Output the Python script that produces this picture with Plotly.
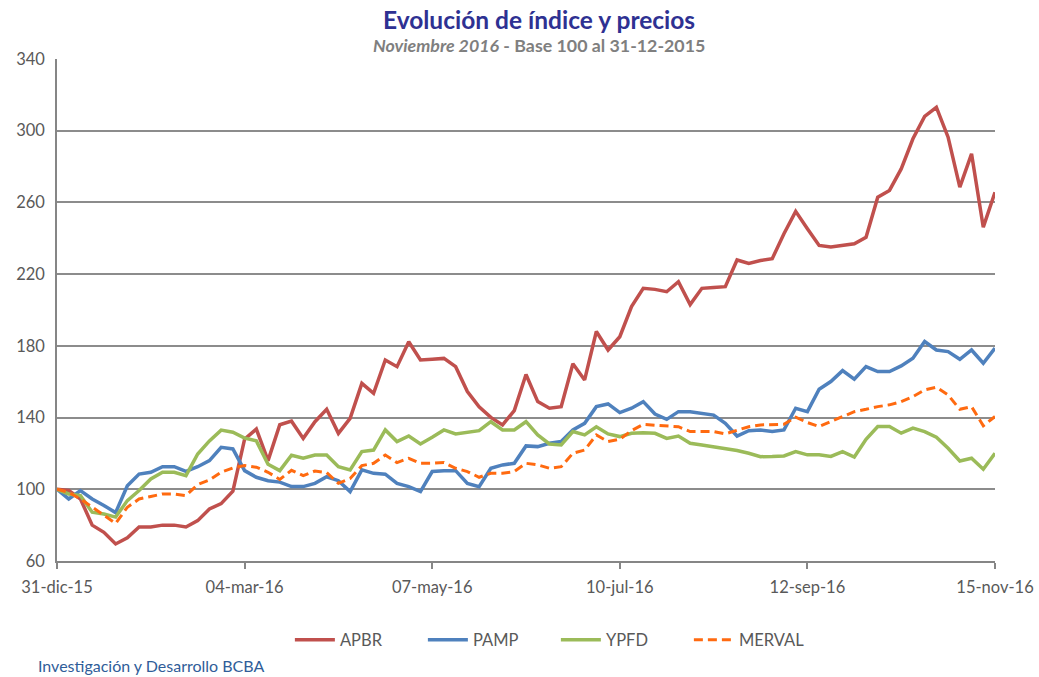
import plotly.graph_objects as go

dates = ["2015-12-31","2016-01-04","2016-01-08","2016-01-12","2016-01-16","2016-01-20","2016-01-24","2016-01-28",
         "2016-02-01","2016-02-05","2016-02-09","2016-02-13","2016-02-17","2016-02-21","2016-02-25","2016-02-29",
         "2016-03-04","2016-03-08","2016-03-12","2016-03-16","2016-03-20","2016-03-24","2016-03-28","2016-04-01",
         "2016-04-05","2016-04-09","2016-04-13","2016-04-17","2016-04-21","2016-04-25","2016-04-29","2016-05-03",
         "2016-05-07","2016-05-11","2016-05-15","2016-05-19","2016-05-23","2016-05-27","2016-05-31","2016-06-04",
         "2016-06-08","2016-06-12","2016-06-16","2016-06-20","2016-06-24","2016-06-28","2016-07-02","2016-07-06",
         "2016-07-10","2016-07-14","2016-07-18","2016-07-22","2016-07-26","2016-07-30","2016-08-03","2016-08-07",
         "2016-08-11","2016-08-15","2016-08-19","2016-08-23","2016-08-27","2016-08-31","2016-09-04","2016-09-08",
         "2016-09-12","2016-09-16","2016-09-20","2016-09-24","2016-09-28","2016-10-02","2016-10-06","2016-10-10",
         "2016-10-14","2016-10-18","2016-10-22","2016-10-26","2016-10-30","2016-11-03","2016-11-07","2016-11-11",
         "2016-11-15"]

apbr = [100, 99.3, 94.6, 80, 76, 69.5, 73, 79, 79, 80, 80, 79, 82.5, 89, 92, 99,
        128, 133.6, 116, 136, 138, 128.4, 137.7, 144.6, 131.2, 139.6, 159.1, 153.5, 172.1, 168.4, 182.3, 172.1,
        172.5, 173, 168.4, 154.5, 146, 140.1, 135.9, 143.9, 164, 148.9, 145.2, 146.1, 170, 161, 188, 177.7,
        185.1, 201.9, 212.1, 211.5, 210.2, 215.8, 203, 212.1, 212.6, 213, 227.9, 226, 227.6, 228.6, 242.5, 255,
        245.3, 236, 235.1, 236, 236.9, 240.6, 262.9, 266.7, 278.7, 295.5, 308, 313, 296.4, 268.5, 287.1, 246.2,
        265.7]

pamp = [100, 94.6, 99.3, 94.6, 91, 87, 102, 108.5, 109.5, 112.6, 112.6, 110, 112.6, 116, 123.4, 122.5,
        110.4, 106.7, 104.8, 104, 101.5, 101.5, 103.3, 107, 104.8, 98.7, 110.8, 108.9, 108.4, 103.3, 101.5, 98.7,
        109.9, 110.4, 110.4, 103.3, 101.5, 111.7, 113.6, 114.5, 124.2, 123.8, 125.7, 126.6, 133.1, 136.8, 146.1, 147.6,
        142.8, 145.2, 148.9, 142, 139, 143.3, 143.3, 142.4, 141.4, 136.8, 129.7, 132.7, 133.1, 132.2, 133.1, 145.2,
        143.3, 155.8, 160.1, 166.2, 161.4, 168.4, 165.7, 165.7, 168.8, 173.1, 182.4, 177.7, 176.8, 172.5, 177.7, 170.3,
        178.7]

ypfd = [100, 97.4, 96.5, 87.2, 86.2, 84.5, 93.7, 99.3, 105.8, 109.5, 109.5, 107.6, 119.7, 127, 133, 131.8,
        128.6, 127, 114, 110.4, 119, 117.3, 119.1, 119.1, 112.6, 110.8, 121, 121.9, 133.1, 126.6, 129.7, 125.3,
        129, 133.1, 130.9, 131.6, 132.7, 137.7, 133.1, 133.1, 137.7, 130.3, 125.3, 124.7, 132.2, 130.3, 134.9, 130.9,
        129.4, 131.2, 131.6, 131.2, 128.4, 129.7, 125.7, 124.7, 123.8, 122.9, 121.6, 120.1, 118.2, 118.3, 118.6, 121,
        119.2, 119.2, 118.3, 121, 118, 127.9, 135, 135, 131.3, 134.1, 132.2, 129, 122.9, 115.8, 117.3, 111.2,
        120.1]

merval = [100, 98.3, 94.6, 90, 85.9, 81, 90, 94.6, 96, 97.4, 97.4, 96.5, 102.6, 105.2, 109.5, 111.9,
          113.2, 112.3, 109.5, 105.5, 110.6, 107.6, 110.2, 109.3, 103.3, 106, 113.2, 114.5, 119.1, 114.9, 117.3, 114.5,
          114.5, 114.9, 111.7, 109.9, 106.7, 108.9, 108.9, 109.9, 114.5, 113.6, 111.7, 112.6, 120.1, 121.9, 130.3, 126.6,
          127.9, 132.7, 136.2, 135.9, 135.3, 134.9, 132.2, 132.2, 132.2, 130.9, 132.7, 134.9, 135.9, 135.9, 136.3, 140.2,
          137.2, 135, 137.8, 140.9, 143.3, 144.6, 146.1, 147.1, 148.9, 151.7, 155.4, 156.9, 152.6, 144.6, 146.1, 135.4,
          140.6]

tick_dates = ["2015-12-31", "2016-03-04", "2016-05-07", "2016-07-10", "2016-09-12", "2016-11-15"]
tick_labels = ["31-dic-15", "04-mar-16", "07-may-16", "10-jul-16", "12-sep-16", "15-nov-16"]
y_ticks = [60, 100, 140, 180, 220, 260, 300, 340]

FONT = "Lato, 'Open Sans', sans-serif"

fig = go.Figure()
fig.add_trace(go.Scatter(x=dates, y=apbr, name="APBR", mode="lines",
                         line=dict(color="#c0504d", width=3.5)))
fig.add_trace(go.Scatter(x=dates, y=pamp, name="PAMP", mode="lines",
                         line=dict(color="#4f81bd", width=3.5)))
fig.add_trace(go.Scatter(x=dates, y=ypfd, name="YPFD", mode="lines",
                         line=dict(color="#9bbb59", width=3.5)))
fig.add_trace(go.Scatter(x=dates, y=merval, name="MERVAL", mode="lines",
                         line=dict(color="#ff6a10", width=3, dash="9px,5px")))

fig.update_layout(
    width=1039, height=677,
    margin=dict(l=57, r=44, t=59, b=116),
    paper_bgcolor="white", plot_bgcolor="white",
    font=dict(family=FONT, color="#595959", size=16),
    showlegend=True,
    legend=dict(orientation="h", xref="container", yref="container",
                x=0.279, y=0.0547, xanchor="left", yanchor="middle",
                font=dict(size=16.5, color="#595959"),
                entrywidth=78, itemwidth=40, traceorder="normal"),
    annotations=[
        dict(text="<b>Evolución de índice y precios</b>", xref="paper", yref="paper",
             x=0.5139, y=1.0777, xanchor="center", yanchor="middle", showarrow=False,
             font=dict(size=24.5, color="#2e3192", family=FONT)),
        dict(text="<b><i>Noviembre 2016</i> - Base 100 al 31-12-2015</b>", xref="paper", yref="paper",
             x=0.5139, y=1.0279, xanchor="center", yanchor="middle", showarrow=False,
             font=dict(size=17.8, color="#7f7f7f", family=FONT)),
        dict(text="Investigación y Desarrollo BCBA", xref="paper", yref="paper",
             x=-0.0224, y=-0.2072, xanchor="left", yanchor="middle", showarrow=False,
             font=dict(size=16, color="#2f5d99", family=FONT)),
    ],
)

fig.update_xaxes(
    type="date", range=["2015-12-31", "2016-11-15"],
    tickvals=tick_dates, ticktext=tick_labels, automargin=False,
    showgrid=False, showline=True, linecolor="#868686", linewidth=1.5,
    ticks="outside", ticklen=6, tickcolor="#868686", tickwidth=1.5,
    tickfont=dict(size=16.5, color="#595959"), zeroline=False,
    ticklabelstandoff=4,
)
fig.update_yaxes(
    range=[60, 340], tickvals=y_ticks, automargin=False,
    showgrid=True, gridcolor="#8c8c8c", gridwidth=1.5,
    showline=True, linecolor="#868686", linewidth=1.5,
    ticks="", tickfont=dict(size=16.5, color="#595959"), zeroline=False,
    ticklabelstandoff=7,
)

fig.write_html("out.html", config={"displayModeBar": False},
               post_script="document.body.style.margin='0';document.body.style.overflow='hidden';")
